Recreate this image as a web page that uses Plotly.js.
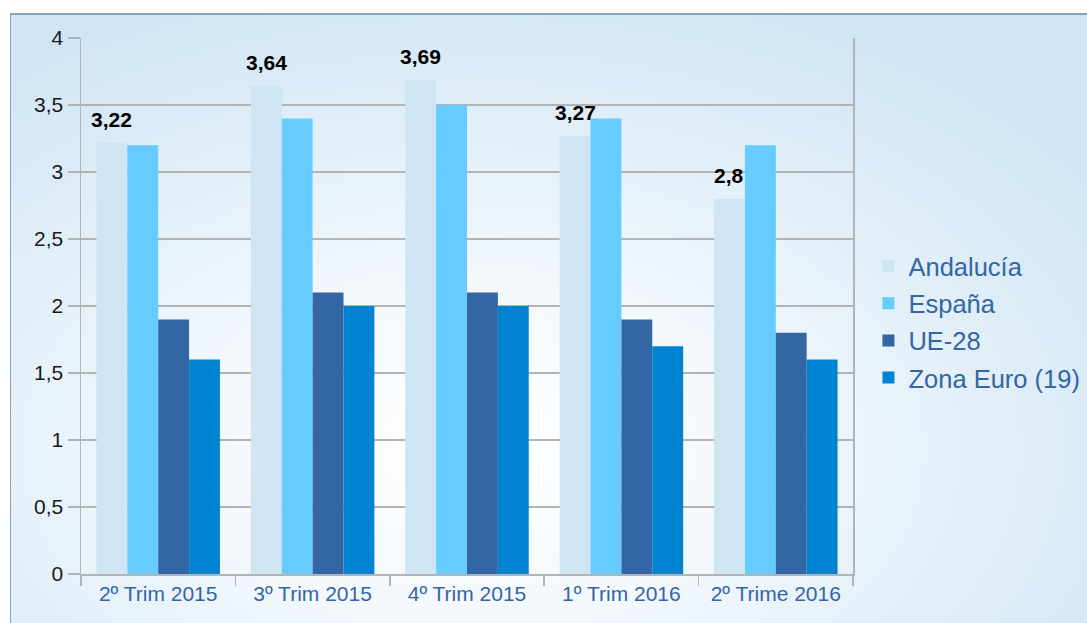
<!DOCTYPE html>
<html>
<head>
<meta charset="utf-8">
<script src="https://cdn.plot.ly/plotly-3.0.1.min.js"></script>
<style>
html, body { margin:0; padding:0; width:1087px; height:623px; overflow:hidden; background:#ffffff; }
#frame { position:absolute; left:10px; top:13px; width:1100px; height:640px;
  border-left:1.5px solid #7fa6cc; border-top:2px solid #7fa6cc;
  background: radial-gradient(ellipse 70% 75% at 42% 68%, #ffffff 0%, #f3f8fc 35%, #e0eef8 70%, #d0e5f4 100%); }
#chart { position:absolute; left:0; top:0; width:1087px; height:623px; }
</style>
</head>
<body>
<div id="frame"></div>
<div id="chart"></div>
<script>
const categories = ["2º Trim 2015", "3º Trim 2015", "4º Trim 2015", "1º Trim 2016", "2º Trime 2016"];
const andalucia = [3.22, 3.64, 3.69, 3.27, 2.8];
const espana = [3.2, 3.4, 3.5, 3.4, 3.2];
const ue28 = [1.9, 2.1, 2.1, 1.9, 1.8];
const zonaEuro = [1.6, 2.0, 2.0, 1.7, 1.6];
const seriesNames = ["Andalucía", "España", "UE-28", "Zona Euro (19)"];
const colors = ["#cfe5f3", "#66ccff", "#3465a4", "#0084d1"];

const font = "Liberation Sans, Arial, sans-serif";
const seriesData = [andalucia, espana, ue28, zonaEuro];
const traces = seriesData.map((vals, i) => ({
  type: "bar", x: categories, y: vals, name: seriesNames[i],
  marker: { color: colors[i], line: { width: 0 } },
  legendgroup: "g" + i,
  textposition: "none",
  hoverinfo: "skip"
}));

const layout = {
  width: 1087, height: 623,
  paper_bgcolor: "rgba(0,0,0,0)", plot_bgcolor: "rgba(0,0,0,0)",
  margin: { l: 81, r: 234, t: 38, b: 49, autoexpand: false },
  separators: ", ",
  barmode: "group", bargap: 0.2, bargroupgap: 0,
  showlegend: true,
  legend: {
    x: 1.02, xanchor: "left", y: 0.47, yanchor: "middle",
    font: { family: font, size: 25.5, color: "#3465a4" },
    bgcolor: "rgba(0,0,0,0)", tracegroupgap: 1, itemclick: false
  },
  xaxis: {
    type: "category", tickson: "boundaries", ticks: "outside", ticklen: 10,
    tickcolor: "#b3b3b3", tickwidth: 1.5,
    showline: true, linecolor: "#b3b3b3", linewidth: 1.5,
    showgrid: false,
    tickfont: { family: font, size: 21, color: "#3465a4" },
    fixedrange: true
  },
  yaxis: {
    range: [0, 4], dtick: 0.5, tick0: 0,
    ticks: "outside", ticklen: 12, tickcolor: "#b3b3b3", tickwidth: 1.5,
    showline: true, linecolor: "#b3b3b3", linewidth: 1.5, mirror: true,
    showgrid: true, gridcolor: "#b3b3b3", gridwidth: 1.5,
    zeroline: false,
    tickfont: { family: font, size: 21, color: "#1a1a1a" },
    fixedrange: true
  }
};

const gd = document.getElementById("chart");
Plotly.newPlot(gd, traces, layout, { displayModeBar: false, staticPlot: true }).then(() => {
  // data labels for Andalucía, placed at the bar centres computed by Plotly
  const cd = gd.calcdata[0];
  const annotations = andalucia.map((v, j) => ({
    xref: "x", yref: "y",
    x: cd[j].x, y: v,
    text: "<b>" + String(v).replace(".", ",") + "</b>",
    showarrow: false, xanchor: "center", yanchor: "bottom", yshift: 10,
    font: { family: font, size: 21, color: "#000000" }
  }));
  return Plotly.relayout(gd, { annotations: annotations });
});
</script>
</body>
</html>
